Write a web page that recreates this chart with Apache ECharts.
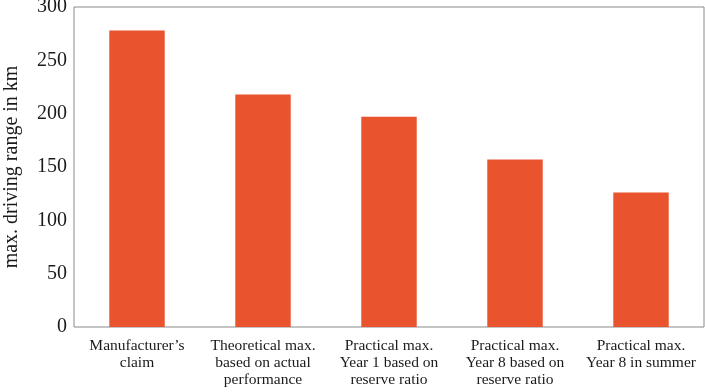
<!DOCTYPE html>
<html><head><meta charset="utf-8">
<script src="https://cdn.jsdelivr.net/npm/echarts@6/dist/echarts.min.js"></script>
<style>html,body{margin:0;padding:0;background:#fff}#c{width:705px;height:392px}</style>
</head><body><div id="c"></div>
<script>
const categories = ["Manufacturer\u2019s\nclaim", "Theoretical max.\nbased on actual\nperformance", "Practical max.\nYear 1 based on\nreserve ratio", "Practical max.\nYear 8 based on\nreserve ratio", "Practical max.\nYear 8 in summer"];
const values = [278, 218, 197, 157, 126];
const yTicks = [0, 50, 100, 150, 200, 250, 300];
const font = "Liberation Serif";
const chart = echarts.init(document.getElementById('c'));
chart.setOption({
  animation: false,
  grid: {left: 74, right: 1, top: 7, bottom: 65, show: true, borderColor: '#8a8a8a', borderWidth: 1,
    containLabel: false, outerBoundsMode: 'none'},
  xAxis: {
    type: 'category', data: categories,
    axisLine: {show: false}, axisTick: {show: false},
    axisLabel: {fontFamily: font, fontSize: 15.5, color: '#1a1a1a', lineHeight: 17, margin: 10, interval: 0}
  },
  yAxis: {
    type: 'value', min: 0, max: 300, interval: 50,
    name: 'max. driving range in km', nameLocation: 'middle', nameGap: 52,
    nameTextStyle: {fontFamily: font, fontSize: 20, color: '#1a1a1a'},
    splitLine: {show: false}, axisLine: {show: false}, axisTick: {show: false},
    axisLabel: {fontFamily: font, fontSize: 20, color: '#1a1a1a', margin: 7,
      formatter: v => yTicks.includes(v) ? String(v) : ''}
  },
  series: [{type: 'bar', data: values, barWidth: '44%', itemStyle: {color: '#E9532D'}}]
});
</script></body></html>
